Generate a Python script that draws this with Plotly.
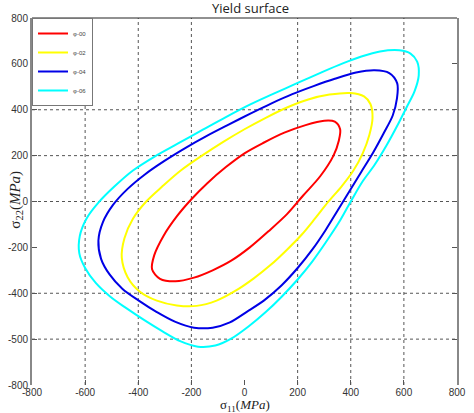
import plotly.graph_objects as go

# --- data ---
names = ["φ-00", "φ-02", "φ-04", "φ-06"]
colors = ["#FF0000", "#FFFF00", "#0000E6", "#00FFFF"]

red_x = [300, 230, 150, 70, 0, -70, -140, -200, -255, -305, -340, -348, -318, -260, -190, -120, -50, 20, 90, 160, 220, 285, 335, 355, 360, 340, 300]
red_y = [352, 333, 300, 255, 210, 150, 80, 10, -65, -150, -235, -295, -337, -348, -332, -300, -258, -200, -130, -55, 25, 110, 200, 265, 315, 348, 352]

yel_x = [400, 320, 240, 160, 80, 0, -80, -160, -240, -310, -370, -420, -452, -462, -440, -395, -330, -255, -180, -105, -35, 35, 100, 160, 215, 265, 315, 365, 410, 445, 470, 482, 474, 450, 400]
yel_y = [473, 466, 445, 410, 365, 315, 260, 200, 135, 65, 0, -75, -160, -245, -330, -392, -432, -453, -455, -432, -390, -335, -275, -210, -145, -75, -2, 65, 135, 210, 290, 365, 425, 458, 473]

blu_x = [490, 420, 340, 260, 180, 100, 20, -60, -140, -220, -300, -375, -440, -495, -533, -550, -540, -508, -460, -398, -330, -260, -190, -120, -55, 10, 75, 140, 200, 255, 305, 350, 395, 440, 485, 525, 558, 574, 575, 545, 490]
blu_y = [572, 562, 535, 503, 468, 427, 382, 335, 287, 235, 178, 118, 55, -15, -90, -170, -250, -318, -380, -432, -482, -525, -550, -550, -527, -480, -430, -365, -290, -210, -125, -40, 45, 130, 215, 300, 375, 450, 515, 560, 572]

cya_x = [583, 510, 440, 370, 290, 200, 110, 20, -70, -160, -250, -340, -420, -490, -550, -595, -620, -622, -600, -560, -505, -445, -380, -310, -240, -175, -110, -50, 15, 80, 140, 200, 255, 305, 355, 400, 445, 490, 535, 575, 610, 640, 656, 650, 625, 583]
cya_y = [659, 654, 632, 602, 563, 517, 470, 422, 368, 311, 253, 195, 135, 65, -5, -75, -150, -225, -290, -355, -415, -465, -515, -565, -610, -633, -628, -598, -545, -482, -415, -340, -262, -180, -92, 0, 88, 160, 245, 330, 410, 480, 550, 610, 645, 659]

series_x = [red_x, yel_x, blu_x, cya_x]
series_y = [red_y, yel_y, blu_y, cya_y]

x_ticks = [-800, -600, -400, -200, 0, 200, 400, 600, 800]
x_ticktext = ["-800", "-600", "-400", "-200", "0", "200", "400", "600", "800"]
y_ticks = [-800, -600, -400, -200, 0, 200, 400, 600, 800]
y_ticktext = ["-800", "-500", "-400", "-200", "0", "200", "400", "600", "800"]
x_grid = [-600, -400, -200, 200, 400, 600]
y_grid = [-600, -400, 0, 200, 400]

fig = go.Figure()
for xs, ys, nm, c in zip(series_x, series_y, names, colors):
    fig.add_trace(go.Scatter(x=xs, y=ys, mode="lines", name=nm,
                             line=dict(color=c, width=2, shape="spline", smoothing=0.9)))

shapes = []
for gx in x_grid:
    shapes.append(dict(type="line", xref="x", yref="y", x0=gx, x1=gx, y0=-800, y1=800,
                       line=dict(color="#555555", width=1, dash="dot"), layer="below"))
for gy in y_grid:
    shapes.append(dict(type="line", xref="x", yref="y", x0=-800, x1=800, y0=gy, y1=gy,
                       line=dict(color="#555555", width=1, dash="dot"), layer="below"))
# top border
shapes.append(dict(type="line", xref="paper", yref="paper", x0=0, x1=1, y0=1, y1=1,
                   line=dict(color="#222222", width=1)))

fig.update_layout(
    width=474, height=413,
    margin=dict(l=28, r=8, t=18, b=28),
    paper_bgcolor="white", plot_bgcolor="white",
    showlegend=True,
    legend=dict(x=0, y=1, xanchor="left", yanchor="top",
                bordercolor="#777777", borderwidth=1, bgcolor="white",
                font=dict(size=6, family="Liberation Sans", color="#444444"),
                tracegroupgap=0, itemwidth=30, entrywidth=22),
    shapes=shapes,
    annotations=[
        dict(text="Yield surface", xref="paper", yref="paper", x=0.515, y=1.0, yshift=10,
             xanchor="center", yanchor="middle", showarrow=False,
             font=dict(size=13, family="Open Sans", color="#222222")),
        dict(text="σ<sub>22</sub>(<i>MPa</i>)", xref="paper", yref="paper", x=0, y=0.505,
             xshift=-16, textangle=-90, xanchor="center", yanchor="middle", showarrow=False,
             font=dict(size=15, family="Liberation Serif", color="#222222")),
        dict(text="σ<sub>11</sub>(<i>MPa</i>)", xref="paper", yref="paper", x=0.5, y=0,
             yshift=-20, xanchor="center", yanchor="middle", showarrow=False,
             font=dict(size=13, family="Liberation Serif", color="#222222")),
    ],
)
fig.update_xaxes(range=[-800, 800], tickvals=x_ticks, ticktext=x_ticktext,
                 showgrid=False, zeroline=False, showline=False,
                 ticks="inside", ticklen=5, tickcolor="#555555",
                 tickfont=dict(size=10, family="Liberation Sans", color="#333333"))
fig.update_yaxes(range=[-800, 800], tickvals=y_ticks, ticktext=y_ticktext,
                 showgrid=False, zeroline=False, showline=True, linecolor="#888888", linewidth=2,
                 mirror="ticks", ticks="inside", ticklen=5, tickcolor="#555555",
                 tickfont=dict(size=10, family="Liberation Sans", color="#333333"))

fig.write_html("out.html")
